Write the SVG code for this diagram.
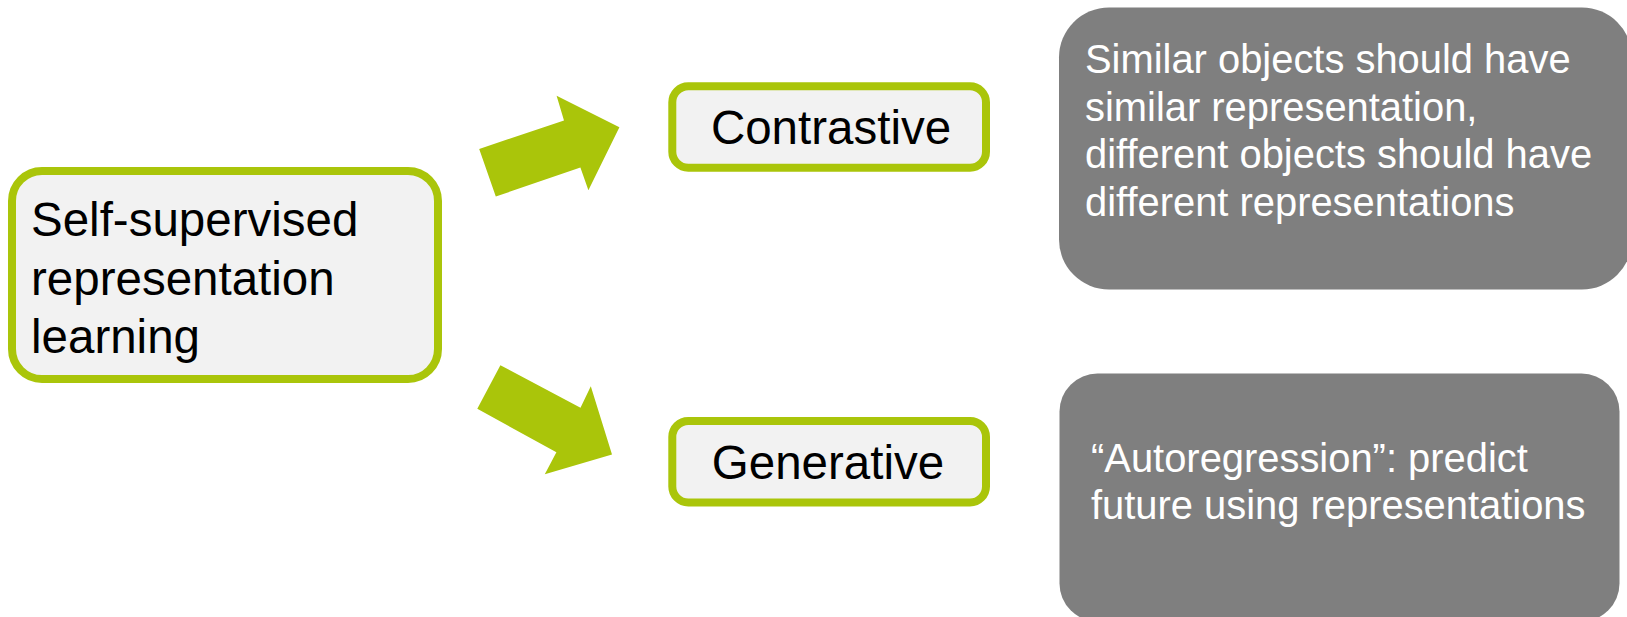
<svg xmlns="http://www.w3.org/2000/svg" width="1627" height="617" viewBox="0 0 1627 617">
  <style>
    .node-box { fill: #f2f2f2; stroke: #aac50a; stroke-width: 8; }
    .note-box { fill: #7f7f7f; }
    .arrow { fill: #aac50a; }
    .dark { font-family: "Liberation Sans", Arial, sans-serif; fill: #000000; }
    .light { font-family: "Liberation Sans", Arial, sans-serif; fill: #ffffff; font-size: 39.9px; }
  </style>

  <!-- block arrows -->
  <g id="connectors">
    <polygon class="arrow" points="495.8,196.5 479.2,149 564,120.4 556.6,95.8 619.4,127.3 588.4,190.3 580.4,167.5"/>
    <polygon class="arrow" points="500.4,365.2 477.3,408.8 556.4,452.2 544.8,474.3 612,454.5 590.8,386.2 580.5,407.8"/>
  </g>

  <g id="root">
    <rect class="node-box" x="12" y="171" width="426" height="208" rx="30" ry="30"/>
    <text class="dark" font-size="47.5">
      <tspan x="31" y="236">Self-supervised</tspan>
      <tspan x="31" y="295">representation</tspan>
      <tspan x="31" y="353">learning</tspan>
    </text>
  </g>

  <g id="contrastive">
    <rect class="node-box" x="672.3" y="86.3" width="313.7" height="81.4" rx="16" ry="16"/>
    <text class="dark" font-size="47.5" x="831" y="144" text-anchor="middle">Contrastive</text>
  </g>

  <g id="generative">
    <rect class="node-box" x="672.3" y="421" width="313.7" height="81.4" rx="16" ry="16"/>
    <text class="dark" font-size="47.5" x="828" y="478.5" text-anchor="middle">Generative</text>
  </g>

  <g id="contrastive-note">
    <rect class="note-box" x="1059" y="7.5" width="573" height="282" rx="50" ry="50"/>
    <text class="light">
      <tspan x="1085" y="73.3">Similar objects should have</tspan>
      <tspan x="1085" y="120.7">similar representation,</tspan>
      <tspan x="1085" y="168.2">different objects should have</tspan>
      <tspan x="1085" y="215.6">different representations</tspan>
    </text>
  </g>

  <g id="generative-note">
    <rect class="note-box" x="1059.5" y="373.5" width="560" height="248" rx="38" ry="38"/>
    <text class="light">
      <tspan x="1091" y="471.7">“Autoregression”: predict</tspan>
      <tspan x="1091" y="519">future using representations</tspan>
    </text>
  </g>
</svg>
